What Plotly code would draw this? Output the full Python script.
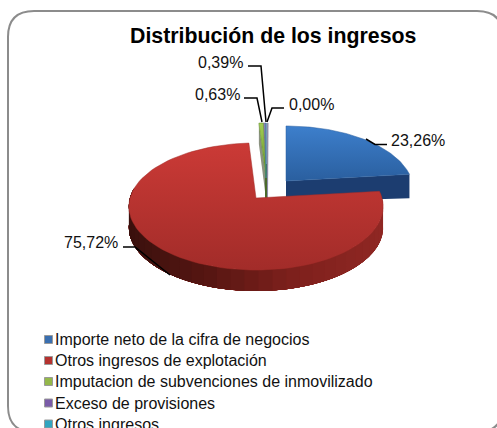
import numpy as np
import plotly.graph_objects as go

# ---- data ----
categories = ["Importe neto de la cifra de negocios", "Otros ingresos de explotación",
              "Imputacion de subvenciones de inmovilizado", "Exceso de provisiones", "Otros ingresos"]
values = [23.26, 75.72, 0.63, 0.39, 0.00]
labels = ["23,26%", "75,72%", "0,63%", "0,39%", "0,00%"]
title = "Distribución de los ingresos"

# ---- style / layout ----
W, H = 497, 428
top_scales = [["#3d7fcc", "#2a5f9f"], ["#cb3a36", "#a22c29"], ["#a4cf52", "#5f8a2a"],
              ["#8d82b5", "#6f6a92"], ["#3fb0c8", "#2a8ea5"]]
swatch = ["#3a6fb0", "#b5322f", "#94b84a", "#7a5ba8", "#31a5c0"]
apex = [(286, 181), (256, 198), (266, 178), (266, 178), (266, 178)]
RX, RY, P, DEPTH = 126, 62.4, 0.134, 21
FONT = "Liberation Sans, Arial, sans-serif"

def project(theta, ax, ay):
    X, Y = np.sin(theta), np.cos(theta)
    w = 1 + P * Y
    return ax + RX * X / w, ay - RY * Y / w

def lerp_hex(stops, t):
    t = min(max(t, 0), 1) * (len(stops) - 1)
    i = min(int(t), len(stops) - 2)
    f = t - i
    a = [int(stops[i][k:k + 2], 16) for k in (1, 3, 5)]
    b = [int(stops[i + 1][k:k + 2], 16) for k in (1, 3, 5)]
    return "rgb(%d,%d,%d)" % tuple(round(a[j] + (b[j] - a[j]) * f) for j in range(3))

def poly(x, y, color):
    return go.Scatter(x=list(x), y=list(y), mode="lines", fill="toself", fillcolor=color,
                      line=dict(color=color, width=0), hoverinfo="skip", showlegend=False)

fractions = np.array(values) / sum(values)
bounds = np.concatenate([[0], np.cumsum(fractions)]) * 2 * np.pi

fig = go.Figure()

def side_band(a0, a1, ax, ay, stops):
    # drawn from the dark right end to the light left end, each strip overlapping the next
    edges = np.linspace(a0, a1, 36)
    for k in range(len(edges) - 1):
        tt = np.linspace(edges[k], a1, 40)
        x, y = project(tt, ax, ay)
        x0_, _ = project(edges[k], ax, ay)
        c = lerp_hex(stops, 1 - (x0_ - (ax - RX)) / (2 * RX))
        fig.add_trace(poly(np.r_[x, x[::-1]], np.r_[y, y[::-1] + DEPTH], c))

def wedge(i):
    tt = np.linspace(bounds[i], bounds[i + 1], 90)
    x, y = project(tt, *apex[i])
    c0, c1 = top_scales[i]
    fig.add_trace(go.Scatter(
        x=[apex[i][0], *x, apex[i][0]], y=[apex[i][1], *y, apex[i][1]], mode="lines",
        fill="toself", name=categories[i], showlegend=False, hoverinfo="name",
        line=dict(color=c1, width=0.5),
        # the y axis runs downward, so the gradient's first stop is the lower edge
        fillgradient=dict(type="vertical", colorscale=[[0, c1], [1, c0]])))

# blue slice: front cut face then top
ax, ay = apex[0]
tip_x, tip_y = project(bounds[1], ax, ay)
fig.add_trace(poly([ax, tip_x, tip_x, ax], [ay, tip_y, tip_y + DEPTH + 3, ay + DEPTH], "#1c3d70"))
wedge(0)

# thin slices
ax, ay = apex[2]
ex, ey = project(bounds[2], ax, ay)
fig.add_trace(poly([ex, ax, ax, ex], [ey, ay, ay + DEPTH, ey + DEPTH], "#8b9280"))
fig.add_trace(poly([ax + 0.5, ax + 2.5, ax + 2, ax], [ey, ey, ay + DEPTH, ay + DEPTH], "#8f8da8"))
fig.add_trace(poly([ax - 1, ax + 1, ax + 1, ax - 1], [ay - 14, ay - 14, ay + DEPTH, ay + DEPTH], "#4a6a2a"))
wedge(3)
wedge(2)
wedge(4)

# red slice: rim then top
side_band(np.pi * 0.47, np.pi * 1.55, *apex[1], ["#8f2723", "#7d201c", "#561612", "#3a100d"])
wedge(1)

# leader lines
leaders_x = [[387, 375, 366], [123, 135, 170], [244, 257, 262], [248, 261, 266], [284, 272, 267]]
leaders_y = [[144.5, 144.5, 139], [247, 247, 275], [98, 98, 122], [66, 66, 122], [108, 108, 122]]
for lx, ly in zip(leaders_x, leaders_y):
    fig.add_trace(go.Scatter(x=lx, y=ly, mode="lines", line=dict(color="black", width=1.5),
                             hoverinfo="skip", showlegend=False))

# legend swatches
legend_y = [339.5, 360.5, 381.5, 403, 424]
for name, c, yy in zip(categories, swatch, legend_y):
    fig.add_trace(go.Scatter(x=[48.5], y=[yy], mode="markers", hoverinfo="skip", showlegend=False,
                             marker=dict(symbol="square", size=8, color=c, line=dict(color="#9a9a9a", width=1))))

ann = []
label_pos = [(389, 140, "left"), (91, 242.5, "center"), (217, 94, "center"),
             (220.5, 62, "center"), (287, 104, "left")]
for t, (px, py, al) in zip(labels, label_pos):
    ann.append(dict(x=px, y=py, text=t, showarrow=False, xanchor=al, yanchor="middle",
                    font=dict(size=16, color="#111111", family=FONT)))
for name, yy in zip(categories, legend_y):
    ann.append(dict(x=53, y=yy, text=name, showarrow=False, xanchor="left", yanchor="middle",
                    font=dict(size=16, color="#111111", family=FONT)))
ann.append(dict(x=272.5, y=36, text="<b>%s</b>" % title, showarrow=False, xanchor="center", yanchor="middle",
                font=dict(size=21.3, color="#000000", family=FONT)))

x0, y0, x1, y1, r = 8, 11, 503, 432, 26
border = (f"M {x0+r},{y0} L {x1-r},{y0} Q {x1},{y0} {x1},{y0+r} L {x1},{y1-r} Q {x1},{y1} {x1-r},{y1} "
          f"L {x0+r},{y1} Q {x0},{y1} {x0},{y1-r} L {x0},{y0+r} Q {x0},{y0} {x0+r},{y0} Z")

fig.update_layout(
    width=W, height=H, margin=dict(l=0, r=0, t=0, b=0),
    paper_bgcolor="white", plot_bgcolor="white", showlegend=False, annotations=ann,
    shapes=[dict(type="path", path=border, xref="x", yref="y", layer="below",
                 line=dict(color="#8c8c8c", width=2))],
    xaxis=dict(range=[0, W], visible=False, fixedrange=True),
    yaxis=dict(range=[H, 0], visible=False, fixedrange=True),
)
fig.write_html("out.html", config=dict(displayModeBar=False),
               post_script="document.body.style.margin='0';document.body.style.overflow='hidden';")
